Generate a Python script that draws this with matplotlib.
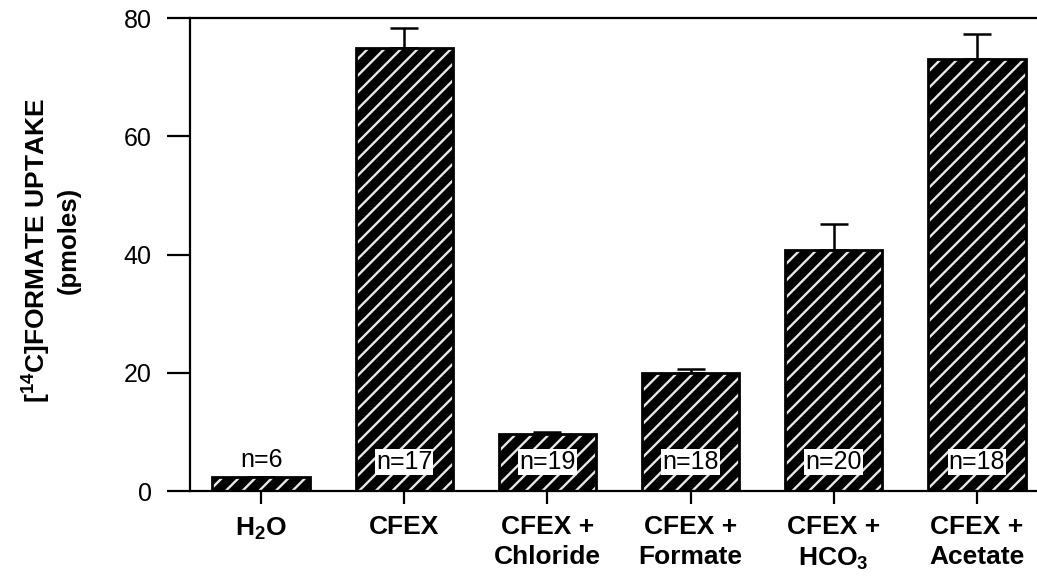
import matplotlib
matplotlib.use("Agg")
import matplotlib.pyplot as plt
import numpy as np

plt.rcParams['font.family'] = ['Liberation Sans', 'DejaVu Sans']
plt.rcParams['mathtext.default'] = 'regular'
plt.rcParams['hatch.linewidth'] = 1.7

# formate uptake per condition, upper SE only
groups = ["H$_2$O", "CFEX", "CFEX +\nChloride", "CFEX +\nFormate",
          "CFEX +\nHCO$_3$", "CFEX +\nAcetate"]
uptake = [2.4, 75.0, 9.6, 20.0, 40.8, 73.1]
err = [0.0, 3.3, 0.3, 0.6, 4.4, 4.2]
n_counts = [6, 17, 19, 18, 20, 18]

fig = plt.figure(figsize=(10.37, 5.8), dpi=100)
ax = fig.add_axes([0.1832, 0.1534, 0.8168, 0.8155])

x = np.arange(len(groups))
w = 0.68

# black bars with white diagonal hatching, then a black outline on top
ax.bar(x, uptake, w, color='black', edgecolor='#e8e8e8', hatch='//', linewidth=0, zorder=2)
ax.bar(x, uptake, w, fill=False, edgecolor='black', linewidth=2, zorder=3)
ax.errorbar(x, uptake, yerr=[np.zeros(len(err)), err], fmt='none', ecolor='black',
            elinewidth=1.8, capsize=10, capthick=1.8, zorder=1)

for i, n in enumerate(n_counts):
    label = "n=%d" % n
    if i == 0:
        ax.text(x[i], uptake[i] + 0.9, label, ha='center', va='bottom', fontsize=18, zorder=4)
    else:
        ax.text(x[i], 4.9, label, ha='center', va='center', fontsize=18, zorder=4,
                bbox=dict(facecolor='white', edgecolor='none', pad=0.8))

ax.set_xlim(-0.497, 5.42)
ax.set_ylim(0, 80)
ax.set_yticks([0, 20, 40, 60, 80])
ax.set_xticks(x)
ax.set_xticklabels(groups, fontweight='bold', fontsize=19, linespacing=1.3)
ax.tick_params(axis='y', direction='out', length=16.5, width=1.6, pad=11, labelsize=18)
ax.tick_params(axis='x', direction='out', length=9.5, width=1.6, pad=8)

ax.spines['right'].set_visible(False)
for s in ['left', 'top', 'bottom']:
    ax.spines[s].set_linewidth(1.6)

fig.text(0.036, 0.569, "[$^{14}$C]FORMATE UPTAKE", rotation=90, ha='center', va='center',
         fontsize=19, fontweight='bold')
fig.text(0.066, 0.586, "(pmoles)", rotation=90, ha='center', va='center',
         fontsize=18.5, fontweight='bold')

fig.savefig("out.png", dpi=100)
